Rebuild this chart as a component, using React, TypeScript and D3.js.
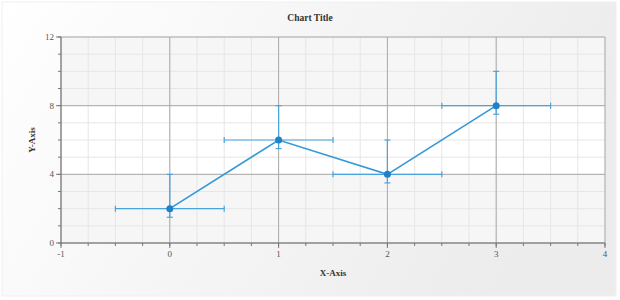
import React from "react";
import * as d3 from "d3";

const xValues = [0, 1, 2, 3];
const yValues = [2, 6, 4, 8];
const xErrMinus = [0.5, 0.5, 0.5, 0.5];
const xErrPlus = [0.5, 0.5, 0.5, 0.5];
const yErrMinus = [0.5, 0.5, 0.5, 0.5];
const yErrPlus = [2, 2, 2, 2];
const xTicks = [-1, 0, 1, 2, 3, 4];
const yTicks = [0, 4, 8, 12];
const title = "Chart Title";
const xTitle = "X-Axis";
const yTitle = "Y-Axis";

const W = 620;
const H = 300;
const m = { left: 61, right: 15, top: 37, bottom: 57 };

export default function App() {
  const x = d3.scaleLinear().domain([-1, 4]).range([m.left, W - m.right]);
  const y = d3.scaleLinear().domain([0, 12]).range([H - m.bottom, m.top]);
  const xMinor = d3.range(-1, 4.0001, 0.25);
  const yMinor = d3.range(0, 12.0001, 1);
  const line = d3
    .line<number>()
    .x((_, i) => x(xValues[i]))
    .y((d) => y(d));
  const blue = "#3399d6";
  const errCol = "#4aa3dc";
  const font = "'Liberation Serif', 'DejaVu Serif', serif";
  const bands = d3.pairs(yTicks).map(([a, b], i) => ({ a, b, shaded: i % 2 === 0 }));
  return (
    <svg
      width={W}
      height={H}
      style={{ position: "absolute", left: 0, top: 0 }}
      fontFamily={font}
    >
      <defs>
        <linearGradient id="bg" x1="0" y1="0" x2="1" y2="0.3">
          <stop offset="0" stopColor="#ffffff" />
          <stop offset="1" stopColor="#ececec" />
        </linearGradient>
      </defs>
      <rect x={0} y={0} width={W} height={H} fill="#ffffff" />
      <rect x={2} y={2} width={W - 6} height={H - 6} fill="url(#bg)" stroke="#f0f0f0" />
      {bands.map((b, i) => (
        <rect
          key={i}
          x={x(-1)}
          y={y(b.b)}
          width={x(4) - x(-1)}
          height={y(b.a) - y(b.b)}
          fill={b.shaded ? "#f6f6f6" : "#ffffff"}
        />
      ))}
      {xMinor.map((v, i) => (
        <line key={"xm" + i} x1={x(v)} x2={x(v)} y1={y(0)} y2={y(12)} stroke="#e6e6e6" strokeWidth={1} />
      ))}
      {yMinor.map((v, i) => (
        <line key={"ym" + i} x1={x(-1)} x2={x(4)} y1={y(v)} y2={y(v)} stroke="#e6e6e6" strokeWidth={1} />
      ))}
      {xTicks.map((v, i) => (
        <line key={"xM" + i} x1={x(v)} x2={x(v)} y1={y(0)} y2={y(12)} stroke="#aaaaaa" strokeWidth={1} />
      ))}
      {yTicks.map((v, i) => (
        <line key={"yM" + i} x1={x(-1)} x2={x(4)} y1={y(v)} y2={y(v)} stroke="#aaaaaa" strokeWidth={1} />
      ))}
      {/* axes */}
      <line x1={x(-1)} x2={x(4)} y1={y(0)} y2={y(0)} stroke="#777" />
      <line x1={x(-1)} x2={x(-1)} y1={y(0)} y2={y(12)} stroke="#777" />
      {xMinor.map((v, i) => (
        <line key={"xt" + i} x1={x(v)} x2={x(v)} y1={y(0)} y2={y(0) + 3} stroke="#777" />
      ))}
      {xTicks.map((v, i) => (
        <g key={"xl" + i}>
          <line x1={x(v)} x2={x(v)} y1={y(0)} y2={y(0) + 5} stroke="#777" />
          <text x={x(v)} y={y(0) + 14} textAnchor="middle" fontSize={9} fill="#555">
            {v}
          </text>
        </g>
      ))}
      {yMinor.map((v, i) => (
        <line key={"yt" + i} x1={x(-1) - 3} x2={x(-1)} y1={y(v)} y2={y(v)} stroke="#777" />
      ))}
      {yTicks.map((v, i) => (
        <g key={"yl" + i}>
          <line x1={x(-1) - 5} x2={x(-1)} y1={y(v)} y2={y(v)} stroke="#777" />
          <text x={x(-1) - 7} y={y(v) + 3} textAnchor="end" fontSize={9} fill="#555">
            {v}
          </text>
        </g>
      ))}
      {/* error bars */}
      {xValues.map((xv, i) => {
        const yv = yValues[i];
        const cx = x(xv);
        const cy = y(yv);
        const xl = x(xv - xErrMinus[i]);
        const xr = x(xv + xErrPlus[i]);
        const yt = y(yv + yErrPlus[i]);
        const yb = y(yv - yErrMinus[i]);
        return (
          <g key={"e" + i} stroke={errCol} strokeWidth={1.2}>
            <line x1={xl} x2={xr} y1={cy} y2={cy} />
            <line x1={xl} x2={xl} y1={cy - 3} y2={cy + 3} />
            <line x1={xr} x2={xr} y1={cy - 3} y2={cy + 3} />
            <line x1={cx} x2={cx} y1={yt} y2={yb} />
            <line x1={cx - 3} x2={cx + 3} y1={yt} y2={yt} />
            <line x1={cx - 3} x2={cx + 3} y1={yb} y2={yb} />
          </g>
        );
      })}
      <path d={line(yValues) || ""} fill="none" stroke={blue} strokeWidth={1.6} />
      {xValues.map((xv, i) => (
        <circle key={"p" + i} cx={x(xv)} cy={y(yValues[i])} r={3.5} fill="#1f82c8" />
      ))}
      <text x={W / 2} y={21} textAnchor="middle" fontSize={9.5} fontWeight="bold" fill="#333">
        {title}
      </text>
      <text
        x={(x(-1) + x(4)) / 2}
        y={276}
        textAnchor="middle"
        fontSize={9}
        fontWeight="bold"
        fill="#333"
      >
        {xTitle}
      </text>
      <text
        transform={`translate(35,${(y(0) + y(12)) / 2}) rotate(-90)`}
        textAnchor="middle"
        fontSize={9}
        fontWeight="bold"
        fill="#333"
      >
        {yTitle}
      </text>
    </svg>
  );
}
